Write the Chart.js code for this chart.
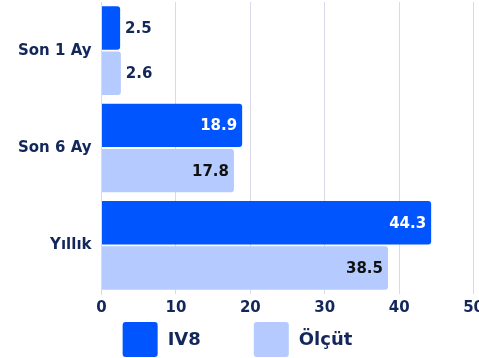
<!DOCTYPE html>
<html>
<head>
<meta charset="utf-8">
<script src="https://cdn.jsdelivr.net/npm/chart.js@4/dist/chart.umd.min.js"></script>
<style>
  html, body { margin: 0; padding: 0; background: #fff; overflow: hidden; }
  #wrap { width: 489px; height: 376px; position: relative; margin-top: -17px; }
</style>
</head>
<body>
<div id="wrap"><canvas id="c"></canvas></div>
<script>
const categories = ['Son 1 Ay', 'Son 6 Ay', 'Yıllık'];
const fundValues = [2.5, 18.9, 44.3];
const benchmarkValues = [2.6, 17.8, 38.5];
const seriesNames = ['IV8', 'Ölçüt'];
const xTicks = [0, 10, 20, 30, 40, 50];

const NAVY = '#13275a';
const FONT = "'DejaVu Sans', 'Open Sans', sans-serif";
const BLUE = '#0055ff';
const LIGHT = '#b5cbff';

// Value labels at the end of each bar: inside when the bar is long enough, outside otherwise
const barValueLabels = {
  id: 'barValueLabels',
  afterDatasetsDraw(chart) {
    const ctx = chart.ctx;
    ctx.save();
    ctx.font = `700 15px ${FONT}`;
    ctx.textBaseline = 'middle';
    chart.data.datasets.forEach((ds, di) => {
      const meta = chart.getDatasetMeta(di);
      meta.data.forEach((bar, i) => {
        const v = ds.data[i];
        const txt = v.toFixed(1);
        const w = ctx.measureText(txt).width;
        const barLen = bar.x - bar.base;
        if (barLen > w + 16) {
          ctx.textAlign = 'right';
          ctx.fillStyle = di === 0 ? '#ffffff' : '#111111';
          ctx.fillText(txt, bar.x - 5, bar.y + 1);
        } else {
          ctx.textAlign = 'left';
          ctx.fillStyle = NAVY;
          ctx.fillText(txt, bar.x + 5, bar.y + 1);
        }
      });
    });
    ctx.restore();
  }
};

// Legend row drawn under the axis: rounded colour squares followed by series names
const bottomLegend = {
  id: 'bottomLegend',
  afterDraw(chart) {
    const ctx = chart.ctx;
    const box = 35, gapText = 10, gapItem = 53;
    ctx.save();
    ctx.font = `700 18px ${FONT}`;
    ctx.textBaseline = 'middle';
    ctx.textAlign = 'left';
    const items = chart.data.datasets.map(ds => ({
      label: ds.label, color: ds.backgroundColor,
      w: box + gapText + ctx.measureText(ds.label).width
    }));
    const total = items.reduce((s, it) => s + it.w, 0) + gapItem * (items.length - 1);
    let x = (479 - total) / 2 - 2;
    const top = chart.height - 37;
    items.forEach(it => {
      ctx.fillStyle = it.color;
      ctx.beginPath();
      ctx.roundRect(x, top, box, box, 3);
      ctx.fill();
      ctx.fillStyle = NAVY;
      ctx.fillText(it.label, x + box + gapText, top + box / 2 + 1);
      x += it.w + gapItem;
    });
    ctx.restore();
  }
};

new Chart(document.getElementById('c'), {
  type: 'bar',
  data: {
    labels: categories,
    datasets: [
      { label: seriesNames[0], data: fundValues, backgroundColor: BLUE, borderRadius: 3, borderSkipped: 'start' },
      { label: seriesNames[1], data: benchmarkValues, backgroundColor: LIGHT, borderRadius: 3, borderSkipped: 'start' }
    ]
  },
  options: {
    indexAxis: 'y',
    responsive: true,
    maintainAspectRatio: false,
    animation: false,
    categoryPercentage: 0.93,
    barPercentage: 0.96,
    layout: { padding: { top: 0, left: 8, right: 0, bottom: 37 } },
    scales: {
      x: {
        min: 0, max: 50,
        afterBuildTicks(scale) { scale.ticks = xTicks.map(v => ({ value: v })); },
        grid: { color: '#d9d9e8', drawTicks: false },
        border: { display: false },
        ticks: { color: NAVY, font: { family: FONT, size: 15, weight: '700' }, padding: 5 }
      },
      y: {
        grid: { display: false, drawTicks: false },
        border: { display: true, color: '#d9d9e8' },
        ticks: { color: NAVY, font: { family: FONT, size: 15, weight: '700' }, padding: 10 }
      }
    },
    plugins: {
      legend: { display: false },
      tooltip: { enabled: false }
    }
  },
  plugins: [barValueLabels, bottomLegend]
});
</script>
</body>
</html>
